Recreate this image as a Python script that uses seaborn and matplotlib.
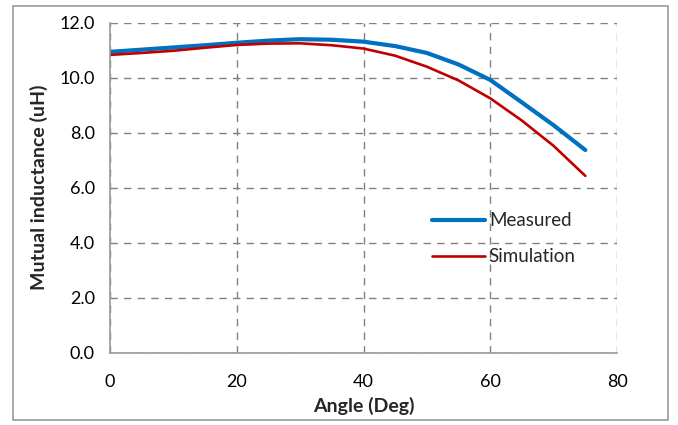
import matplotlib
matplotlib.use("Agg")
import matplotlib.pyplot as plt
import seaborn as sns
import pandas as pd
from matplotlib.patches import Rectangle

angle = [0, 5, 10, 15, 20, 25, 30, 35, 40, 45, 50, 55, 60, 65, 70, 75]
measured = [10.94, 11.02, 11.10, 11.18, 11.27, 11.35, 11.40, 11.38, 11.31, 11.15,
            10.90, 10.48, 9.92, 9.10, 8.27, 7.37]
simulation = [10.83, 10.90, 10.98, 11.09, 11.19, 11.24, 11.25, 11.18, 11.06, 10.80,
              10.40, 9.90, 9.25, 8.44, 7.52, 6.43]
x_ticks = [0, 20, 40, 60, 80]
y_ticks = [0.0, 2.0, 4.0, 6.0, 8.0, 10.0, 12.0]

sns.set_theme(style="white")
plt.rcParams['font.family'] = ['Lato', 'DejaVu Sans']

df = pd.DataFrame({"angle": angle, "Measured": measured, "Simulation": simulation})

fig = plt.figure(figsize=(6.78, 4.25), dpi=100)
ax = fig.add_axes([110/678, 1-352.7/425, 507/678, 330/425])

sns.lineplot(data=df, x="angle", y="Measured", ax=ax, color="#0070C0",
             linewidth=3.0, label="Measured", solid_capstyle="round")
sns.lineplot(data=df, x="angle", y="Simulation", ax=ax, color="#C00000",
             linewidth=1.9, label="Simulation", solid_capstyle="round")

ax.set_xlim(0, 80)
ax.set_ylim(0, 12)
ax.set_xticks(x_ticks)
ax.set_yticks(y_ticks)
ax.set_yticklabels([f"{v:.1f}" for v in y_ticks])
ax.set_xticklabels([str(v) for v in x_ticks])
ax.tick_params(axis="both", labelsize=13, colors="#000000", length=5, width=1,
               direction="out", color="#888888")
ax.tick_params(axis="x", pad=10)
ax.tick_params(axis="y", pad=6)

ax.grid(True, linestyle=(0, (5.3, 4.5)), color="#808080", linewidth=1.0)
ax.set_axisbelow(True)
for side in ["top", "right"]:
    ax.spines[side].set_visible(False)
for side in ["left", "bottom"]:
    ax.spines[side].set_color("#999999")
    ax.spines[side].set_linewidth(1.2)
    ax.spines[side].set_zorder(3)

ax.set_xlabel("Angle (Deg)", fontsize=14, fontweight="bold", labelpad=5)
ax.set_ylabel("Mutual inductance (uH)", fontsize=14, fontweight="bold", labelpad=8)

leg = ax.legend(loc="upper left", bbox_to_anchor=(0.635, 0.426), frameon=False,
                fontsize=13.5, handlelength=2.83, handletextpad=0.2,
                labelspacing=1.02, borderpad=0, borderaxespad=0)

fig.patches.append(Rectangle((13/678, 5/425), 655/678, 414/425, transform=fig.transFigure,
                             fill=False, edgecolor="#999999", linewidth=1.2))

fig.savefig("out.png", dpi=100)
